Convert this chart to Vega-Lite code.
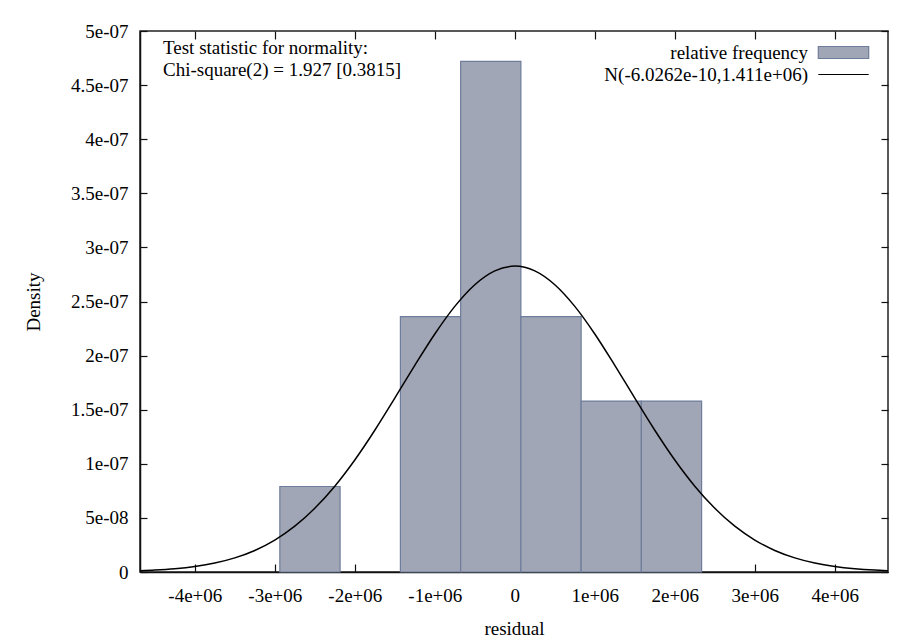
{
  "$schema": "https://vega.github.io/schema/vega-lite/v6.json",
  "width": 748,
  "height": 541,
  "autosize": {"type": "none"},
  "padding": {"left": 140, "top": 31, "right": 22, "bottom": 71},
  "background": "white",
  "title": {
    "text": ["Test statistic for normality:", "Chi-square(2) = 1.927 [0.3815]"],
    "anchor": "start",
    "frame": "group",
    "orient": "top",
    "offset": -58,
    "dx": 23,
    "baseline": "top",
    "font": "Liberation Serif",
    "fontSize": 19,
    "fontWeight": "normal",
    "color": "black",
    "lineHeight": 22
  },
  "datasets": {
    "bins": [
      {"x0": -2937000, "x1": -2184000, "density": 7.9e-8},
      {"x0": -1430000, "x1": -677000, "density": 2.36e-7},
      {"x0": -677000, "x1": 76000, "density": 4.72e-7},
      {"x0": 76000, "x1": 829000, "density": 2.36e-7},
      {"x0": 829000, "x1": 1582000, "density": 1.58e-7},
      {"x0": 1582000, "x1": 2335000, "density": 1.58e-7}
    ],
    "curve": [
      {"x": -4680000, "y": 1.15e-9},
      {"x": -4500000, "y": 1.75e-9},
      {"x": -4250000, "y": 3.03e-9},
      {"x": -4000000, "y": 5.09e-9},
      {"x": -3750000, "y": 8.27e-9},
      {"x": -3500000, "y": 1.304e-8},
      {"x": -3250000, "y": 1.992e-8},
      {"x": -3000000, "y": 2.95e-8},
      {"x": -2750000, "y": 4.233e-8},
      {"x": -2500000, "y": 5.885e-8},
      {"x": -2250000, "y": 7.929e-8},
      {"x": -2000000, "y": 1.035e-7},
      {"x": -1750000, "y": 1.31e-7},
      {"x": -1500000, "y": 1.607e-7},
      {"x": -1250000, "y": 1.91e-7},
      {"x": -1000000, "y": 2.2e-7},
      {"x": -750000, "y": 2.455e-7},
      {"x": -500000, "y": 2.655e-7},
      {"x": -250000, "y": 2.783e-7},
      {"x": 0, "y": 2.827e-7},
      {"x": 250000, "y": 2.783e-7},
      {"x": 500000, "y": 2.655e-7},
      {"x": 750000, "y": 2.455e-7},
      {"x": 1000000, "y": 2.2e-7},
      {"x": 1250000, "y": 1.91e-7},
      {"x": 1500000, "y": 1.607e-7},
      {"x": 1750000, "y": 1.31e-7},
      {"x": 2000000, "y": 1.035e-7},
      {"x": 2250000, "y": 7.929e-8},
      {"x": 2500000, "y": 5.885e-8},
      {"x": 2750000, "y": 4.233e-8},
      {"x": 3000000, "y": 2.95e-8},
      {"x": 3250000, "y": 1.992e-8},
      {"x": 3500000, "y": 1.304e-8},
      {"x": 3750000, "y": 8.27e-9},
      {"x": 4000000, "y": 5.09e-9},
      {"x": 4250000, "y": 3.03e-9},
      {"x": 4500000, "y": 1.75e-9},
      {"x": 4665000, "y": 1.2e-9}
    ]
  },
  "layer": [
    {
      "data": {"name": "bins"},
      "mark": {"type": "rect", "stroke": "#6e7d9b", "strokeWidth": 1.2, "fillOpacity": 1},
      "encoding": {
        "x": {
          "field": "x0", "type": "quantitative",
          "scale": {"domain": [-4685000, 4665000], "nice": false, "zero": false},
          "axis": {
            "orient": "bottom",
            "values": [-4000000, -3000000, -2000000, -1000000, 0, 1000000, 2000000, 3000000, 4000000],
            "labelExpr": "datum.value == 0 ? '0' : replace(replace(format(datum.value, '~e'), 'e+', 'e+0'), '\u2212', '-')",
            "title": "residual",
            "tickSize": -8,
            "labelPadding": 22,
            "titlePadding": 14
          }
        },
        "x2": {"field": "x1"},
        "y": {
          "field": "density", "type": "quantitative",
          "scale": {"domain": [0, 5e-7], "nice": false},
          "axis": {
            "orient": "left",
            "values": [0, 5e-8, 1e-7, 1.5e-7, 2e-7, 2.5e-7, 3e-7, 3.5e-7, 4e-7, 4.5e-7, 5e-7],
            "labelExpr": "datum.value == 0 ? '0' : replace(format(datum.value, '~e'), 'e-', 'e-0')",
            "title": "Density",
            "tickSize": -7,
            "labelPadding": 19,
            "titlePadding": 27
          }
        },
        "y2": {"datum": 0},
        "fill": {
          "datum": "relative frequency",
          "scale": {"range": ["#a0a6b5"]},
          "legend": {
            "orient": "none",
            "legendX": 444,
            "legendY": 12,
            "title": null,
            "padding": 0,
            "symbolType": "M-4.2,-1H4.2V1H-4.2Z",
            "symbolSize": 144,
            "symbolOffset": 250,
            "symbolStrokeColor": "#6e7d9b",
            "symbolStrokeWidth": 1.2,
            "symbolOpacity": 1,
            "labelOffset": -45,
            "labelAlign": "right"
          }
        }
      }
    },
    {
      "data": {"name": "curve"},
      "mark": {"type": "line", "strokeWidth": 1.5, "interpolate": "monotone", "clip": true},
      "encoding": {
        "x": {
          "field": "x", "type": "quantitative",
          "axis": {
            "orient": "top",
            "values": [-4000000, -3000000, -2000000, -1000000, 0, 1000000, 2000000, 3000000, 4000000],
            "labels": false,
            "domain": false,
            "title": null,
            "tickSize": -8
          }
        },
        "y": {
          "field": "y", "type": "quantitative",
          "axis": {
            "orient": "right",
            "values": [0, 5e-8, 1e-7, 1.5e-7, 2e-7, 2.5e-7, 3e-7, 3.5e-7, 4e-7, 4.5e-7, 5e-7],
            "labels": false,
            "domain": false,
            "title": null,
            "tickSize": -7
          }
        },
        "stroke": {
          "datum": "N(-6.0262e-10,1.411e+06)",
          "scale": {"range": ["#000000"]},
          "legend": {
            "orient": "none",
            "legendX": 444,
            "legendY": 34,
            "title": null,
            "padding": 0,
            "symbolType": "M-4.2,0H4.2",
            "symbolSize": 144,
            "symbolOffset": 250,
            "symbolStrokeWidth": 1.2,
            "symbolOpacity": 1,
            "labelOffset": -45,
            "labelAlign": "right"
          }
        }
      }
    }
  ],
  "resolve": {"axis": {"x": "independent", "y": "independent"}},
  "config": {
    "view": {"stroke": "#222222", "strokeWidth": 1.5},
    "font": "Liberation Serif",
    "axis": {
      "grid": false,
      "domainColor": "#111111",
      "domainWidth": 1.5,
      "tickColor": "#111111",
      "tickWidth": 1.2,
      "labelFont": "Liberation Serif",
      "labelFontSize": 19,
      "labelColor": "black",
      "titleFont": "Liberation Serif",
      "titleFontSize": 19,
      "titleFontWeight": "normal",
      "titleColor": "black"
    },
    "legend": {
      "labelFont": "Liberation Serif",
      "labelFontSize": 19,
      "labelColor": "black",
      "labelLimit": 400
    }
  }
}
